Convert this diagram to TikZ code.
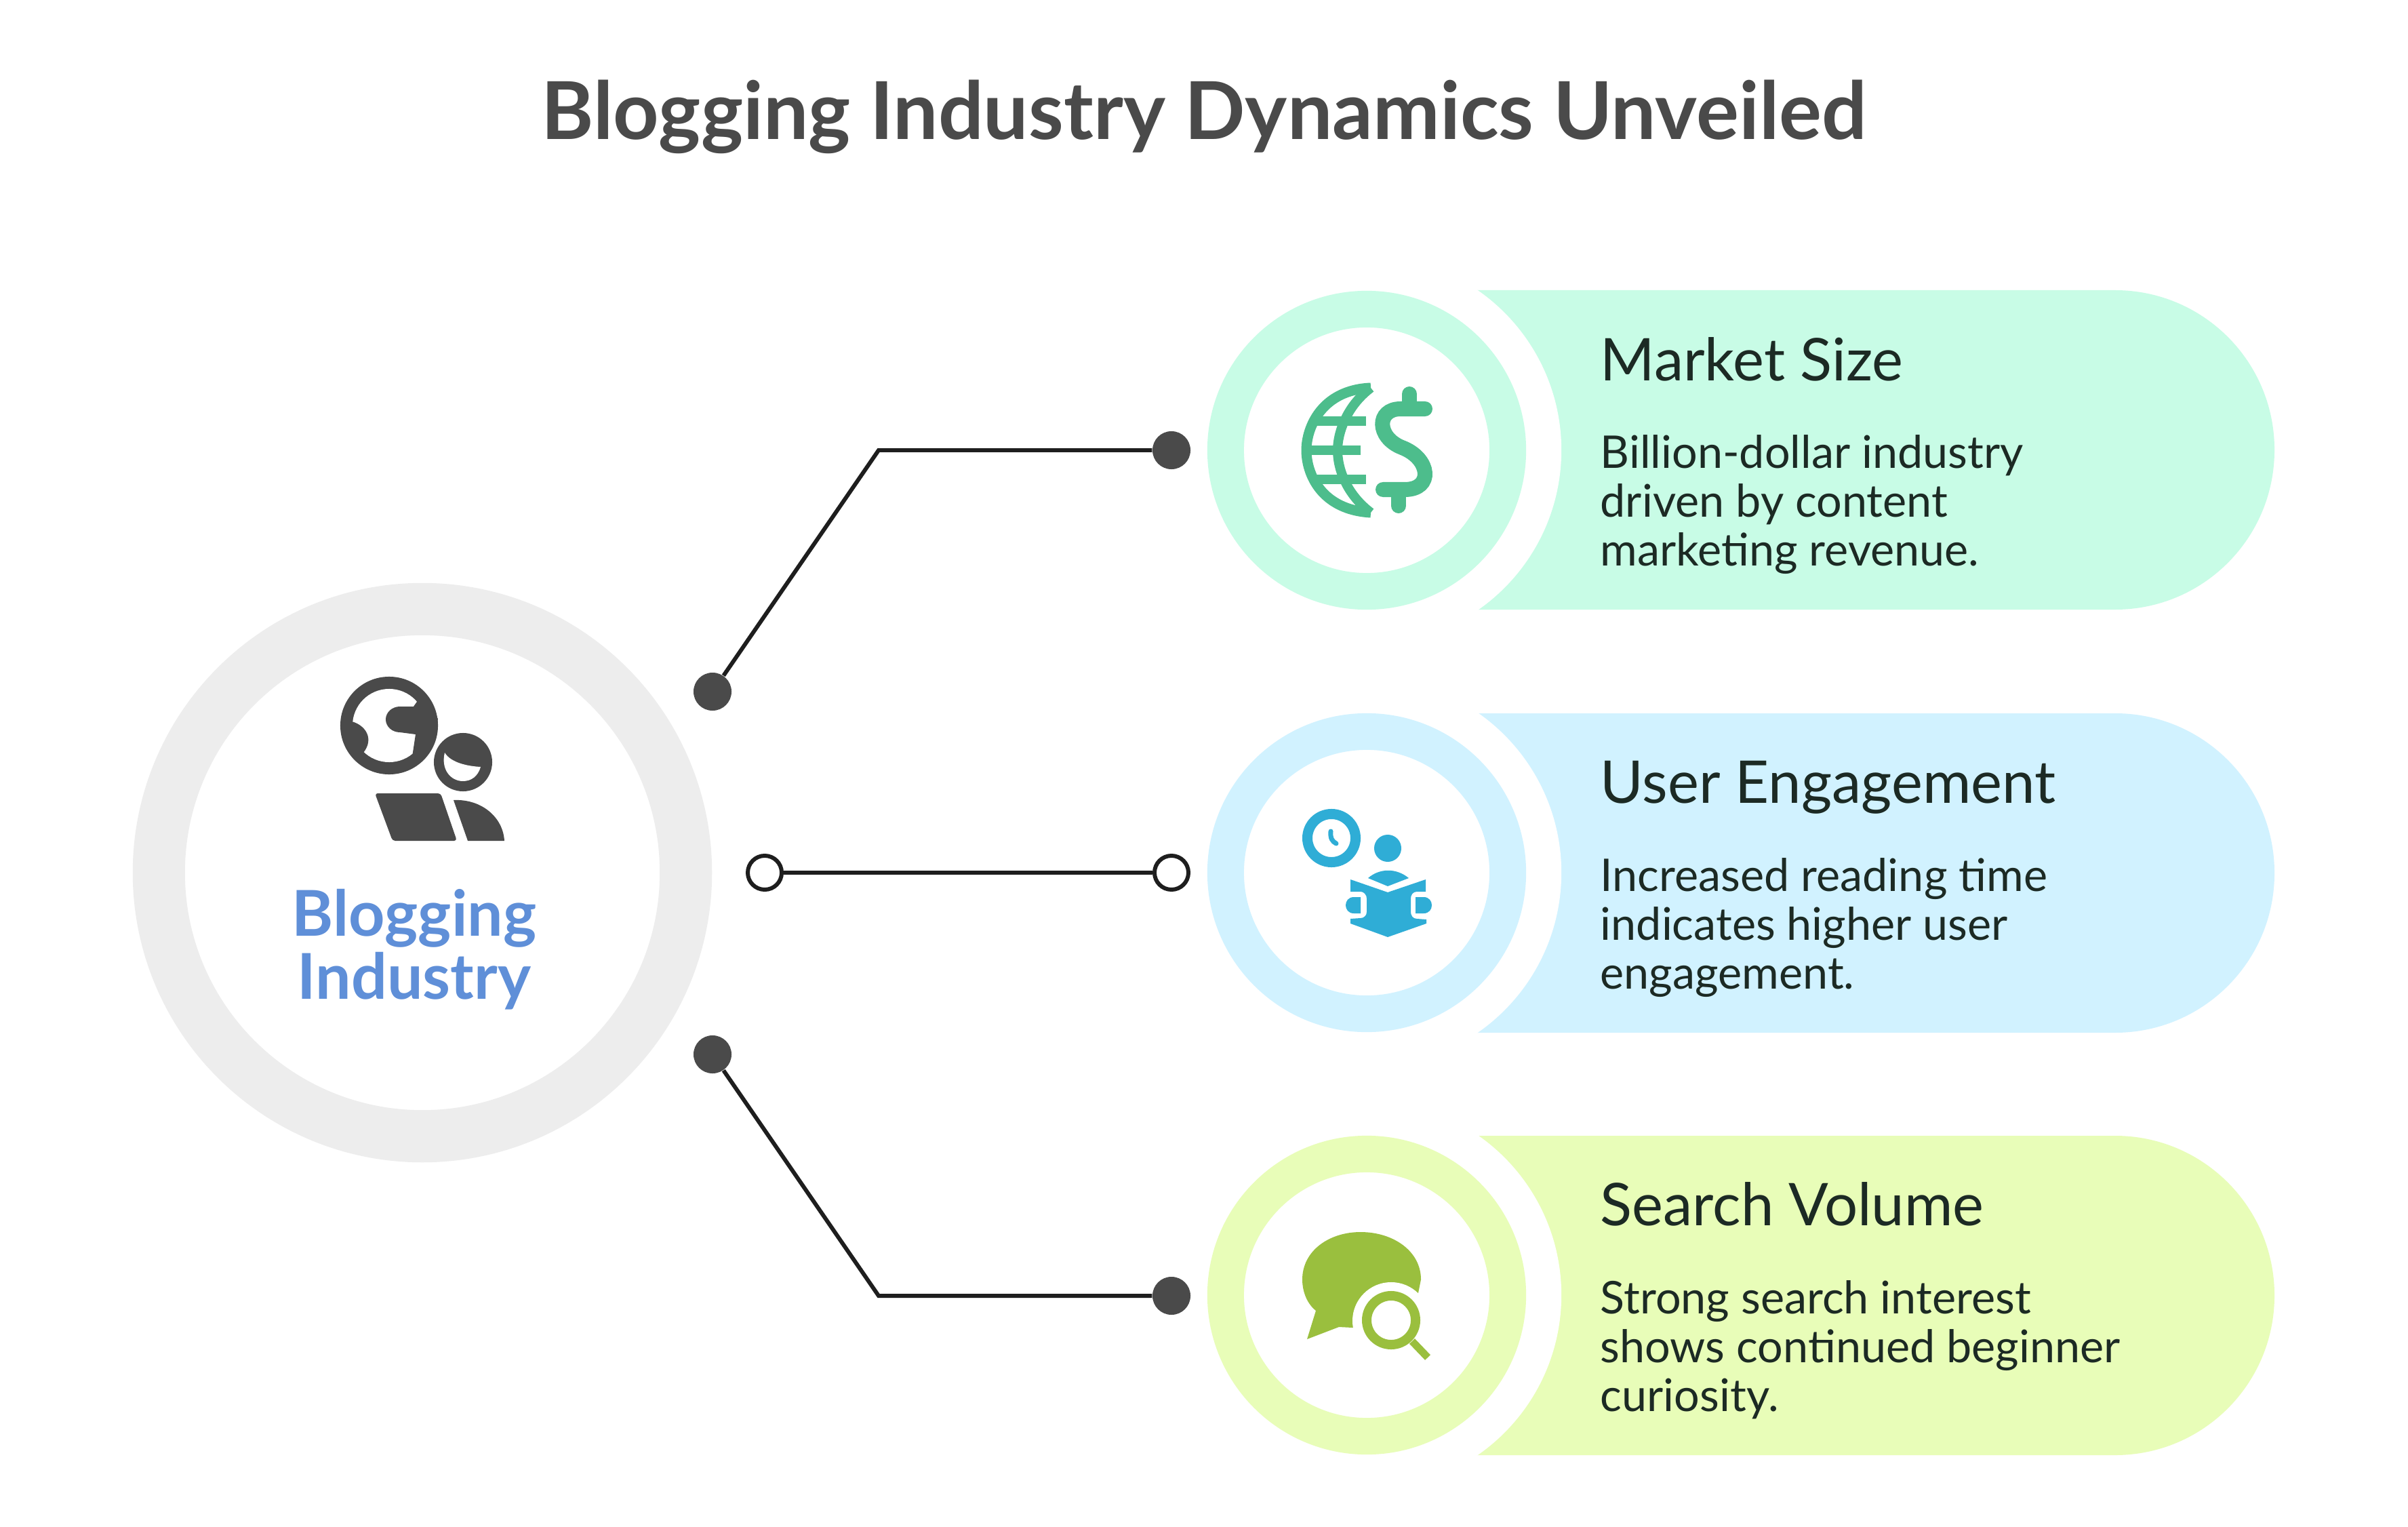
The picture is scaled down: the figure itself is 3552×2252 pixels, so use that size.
\documentclass[tikz,border=0pt]{standalone}
\usepackage{fontspec}
\setmainfont{Lato}
\definecolor{inkdark}{HTML}{4A4A4A}
\definecolor{inkline}{HTML}{1E1E1E}
\definecolor{inktext}{HTML}{1C2A24}
\definecolor{ringgrey}{HTML}{EDEDED}
\definecolor{hubblue}{HTML}{5F8FD8}
\definecolor{mintfill}{HTML}{C8FCE6}
\definecolor{skyfill}{HTML}{D1F2FF}
\definecolor{limefill}{HTML}{E8FDB8}
\definecolor{minticon}{HTML}{4DBD8C}
\definecolor{skyicon}{HTML}{2FADD6}
\definecolor{limeicon}{HTML}{9ABF3E}
\tikzset{
  ring/.style={circle, fill=white, inner sep=0pt, minimum size=4.16cm, line width=0.54cm},
  dotfull/.style={circle, fill=inkdark, inner sep=0pt, minimum size=0.56cm},
  dotopen/.style={circle, draw=inkline, fill=white, line width=1.7pt, inner sep=0pt, minimum size=0.5cm},
  headtext/.style={anchor=west, inner sep=0pt, text=inktext, font=\fontsize{24.7}{28}\selectfont},
  bodytext/.style={anchor=west, inner sep=0pt, align=left, text=inktext, font=\fontsize{18.9}{20.5}\selectfont}
}
\begin{document}
\begin{tikzpicture}[x=0.01cm, y=-0.01cm]
    \useasboundingbox (0,0) rectangle (3552,2252);
    \fill[white] (0,0) rectangle (3552,2252);
    \node (title) at (1776,172) [inner sep=0pt, text=inkdark, font=\fontsize{33.5}{38}\selectfont\bfseries] {Blogging Industry Dynamics Unveiled};

    % hub
    \node (hub) at (623,1287) [circle, draw=ringgrey, fill=white, line width=0.77cm, inner sep=0pt, minimum size=7.77cm] {};
    \node (hubtext) at (611,1400) [inner sep=0pt, align=center, text=hubblue, font=\fontsize{26.5}{26.4}\selectfont\bfseries] {Blogging\\Industry};

    % hub icon
    \fill[inkdark] (574,1070) circle (0.72cm);
    \fill[white] (574,1070) circle (0.54cm);
    \fill[inkdark] (590,1061) ellipse (0.21cm and 0.19cm);
    \fill[inkdark] (590,1042) -- (610,1042) -- (622,1025) -- (646,1060) -- (640,1090) -- (625,1120) -- (608,1116) -- (613,1083) -- (590,1080) -- cycle;
    \fill[inkdark] (519,1064) .. controls (540,1070) and (552,1090) .. (536,1110) -- (510,1090) -- cycle;
    \fill[inkdark] (683,1124) circle (0.43cm);
    \fill[white] (656,1110) .. controls (665,1125) and (690,1130) .. (709,1131) .. controls (705,1145) and (695,1152) .. (683,1152) .. controls (665,1152) and (650,1135) .. (656,1110) -- cycle;
    \fill[inkdark, rounded corners=0.04cm] (553,1170) -- (650,1170) -- (674,1240) -- (579,1240) -- cycle;
    \fill[inkdark] (669,1180) .. controls (710,1178) and (742,1205) .. (744,1240) -- (690,1240) -- cycle;

    % market size
    \fill[mintfill] (2016,428) [rounded corners=2.35cm] -- (3355,428) -- (3355,899) [sharp corners] -- (2016,899) -- cycle;
    \fill[white] (2016,664) circle (2.87cm);
    \node (ringa) at (2016,664) [ring, draw=mintfill] {};
    \node (heada) at (2360,530) [headtext] {Market Size};
    \node (bodya) at (2360,744) [bodytext] {Billion-dollar industry\\driven by content\\marketing revenue.};
    \draw[minticon, line width=0.15cm] (2022,572) .. controls (1950,575) and (1927,630) .. (1927,664) .. controls (1927,700) and (1950,752) .. (2022,756);
    \draw[minticon, line width=0.14cm] (2022,572) .. controls (1985,600) and (1973,640) .. (1973,664) .. controls (1973,690) and (1985,728) .. (2022,756);
    \draw[minticon, line width=0.14cm] (1935,621) -- (2015,621);
    \draw[minticon, line width=0.14cm] (1925,664) -- (2007,664);
    \draw[minticon, line width=0.14cm] (1935,707) -- (2015,707);
    \draw[minticon, line width=0.22cm, line cap=round] (2102,603) -- (2066,603) .. controls (2030,603) and (2030,645) .. (2068,660) .. controls (2110,676) and (2115,722) .. (2072,722) -- (2040,722);
    \draw[minticon, line width=0.22cm, line cap=round] (2079,581) -- (2079,600);
    \draw[minticon, line width=0.22cm, line cap=round] (2063,725) -- (2063,746);

    % user engagement
    \fill[skyfill] (2016,1052) [rounded corners=2.35cm] -- (3355,1052) -- (3355,1523) [sharp corners] -- (2016,1523) -- cycle;
    \fill[white] (2016,1287) circle (2.87cm);
    \node (ringb) at (2016,1287) [ring, draw=skyfill] {};
    \node (headb) at (2360,1161) [headtext] {User Engagement};
    \node (bodyb) at (2360,1368) [bodytext] {Increased reading time\\indicates higher user\\engagement.};
    \draw[skyicon, line width=0.15cm] (1964,1236) circle (0.355cm);
    \draw[skyicon, line width=0.07cm, line cap=round] (1963,1226) .. controls (1962,1236) and (1965,1241) .. (1971,1244);
    \fill[skyicon] (2047,1251) circle (0.2cm);
    \fill[skyicon] (2018,1295) .. controls (2035,1280) and (2060,1280) .. (2078,1295) -- (2047,1307) -- cycle;
    \fill[skyicon] (1992,1297) -- (2047,1316) -- (2103,1297) -- (2103,1315) -- (2090,1315) .. controls (2084,1315) and (2081,1320) .. (2081,1325) -- (2081,1345) .. controls (2081,1350) and (2084,1355) .. (2090,1355) -- (2104,1356) -- (2104,1362) -- (2047,1382) -- (1992,1362) -- (1992,1355) -- (2007,1354) .. controls (2012,1354) and (2016,1350) .. (2016,1345) -- (2016,1325) .. controls (2016,1320) and (2012,1315) .. (2007,1315) -- (1992,1315) -- cycle;
    \fill[skyicon] (2007,1323) -- (2007,1347) -- (1997,1347) .. controls (1981,1347) and (1981,1323) .. (1997,1323) -- cycle;
    \fill[skyicon] (2088,1323) -- (2088,1347) -- (2100,1347) .. controls (2116,1347) and (2116,1323) .. (2100,1323) -- cycle;

    % search volume
    \fill[limefill] (2016,1675) [rounded corners=2.35cm] -- (3355,1675) -- (3355,2146) [sharp corners] -- (2016,2146) -- cycle;
    \fill[white] (2016,1910) circle (2.87cm);
    \node (ringc) at (2016,1910) [ring, draw=limefill] {};
    \node (headc) at (2360,1776) [headtext] {Search Volume};
    \node (bodyc) at (2360,1991) [bodytext] {Strong search interest\\shows continued beginner\\curiosity.};
    \fill[limeicon] (1928,1975) -- (1941,1933) .. controls (1925,1920) and (1921,1900) .. (1921,1887) .. controls (1921,1845) and (1960,1817) .. (2007,1817) .. controls (2055,1817) and (2096,1845) .. (2096,1887) -- (2092,1907) -- (2052,1948) -- (1995,1958) -- (1975,1957) -- cycle;
    \fill[white] (2052,1948) circle (0.57cm);
    \draw[limeicon, line width=0.14cm] (2052,1947) circle (0.36cm);
    \draw[limeicon, line width=0.11cm] (2083,1978) -- (2106,2002);

    % connectors
    \node (dota) at (1051,1020) [dotfull] {};
    \node (dotb) at (1728,664) [dotfull] {};
    \node (dotc) at (1128,1287) [dotopen] {};
    \node (dotd) at (1728,1287) [dotopen] {};
    \node (dote) at (1051,1555) [dotfull] {};
    \node (dotf) at (1728,1911) [dotfull] {};
    \coordinate (elbowa) at (1296,664);
    \coordinate (elbowb) at (1296,1911);
    \draw[inkline, line width=1.7pt] (dota) -- (elbowa) -- (dotb);
    \draw[inkline, line width=1.7pt] (dotc) -- (dotd);
    \draw[inkline, line width=1.7pt] (dote) -- (elbowb) -- (dotf);
\end{tikzpicture}
\end{document}
